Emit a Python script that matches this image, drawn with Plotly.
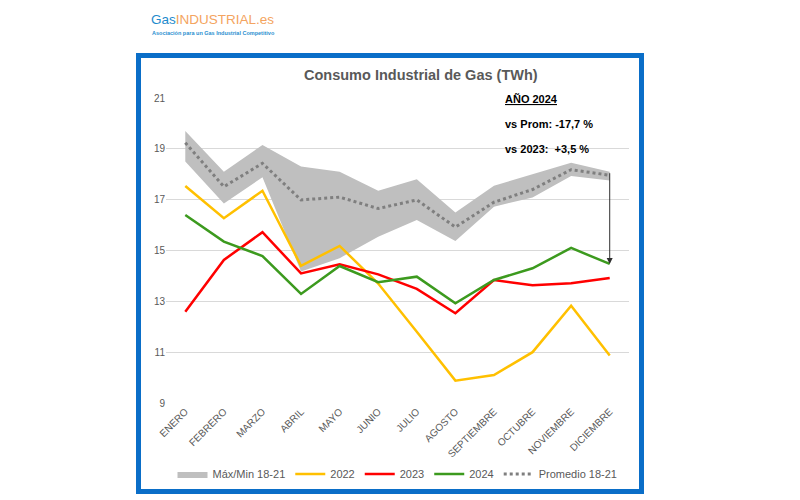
import plotly.graph_objects as go

meses = ["ENERO", "FEBRERO", "MARZO", "ABRIL", "MAYO", "JUNIO", "JULIO",
         "AGOSTO", "SEPTIEMBRE", "OCTUBRE", "NOVIEMBRE", "DICIEMBRE"]
max_18_21 = [19.7, 18.1, 19.15, 18.3, 18.1, 17.35, 17.8, 16.5, 17.55, 18.0, 18.45, 18.1]
min_18_21 = [18.5, 16.85, 17.88, 14.17, 14.7, 15.54, 16.2, 15.37, 16.72, 17.09, 17.93, 17.75]
prom_18_21 = [19.24, 17.51, 18.43, 16.99, 17.1, 16.65, 16.99, 15.92, 16.9, 17.4, 18.18, 17.96]
v2022 = [17.54, 16.27, 17.35, 14.4, 15.18, 13.7, 11.8, 9.88, 10.1, 11.0, 12.83, 10.87]
v2023 = [12.59, 14.63, 15.72, 14.1, 14.46, 14.06, 13.49, 12.53, 13.84, 13.63, 13.71, 13.92]
v2024 = [16.4, 15.35, 14.78, 13.29, 14.39, 13.75, 13.97, 12.92, 13.84, 14.3, 15.1, 14.47]
y_ticks = [9, 11, 13, 15, 17, 19, 21]

GREY = "#595959"
fig = go.Figure()
fig.add_trace(go.Scatter(x=meses, y=min_18_21, mode="lines", line=dict(width=0, color="#BFBFBF"),
                         showlegend=False, hoverinfo="skip"))
fig.add_trace(go.Scatter(x=meses, y=max_18_21, mode="lines", line=dict(width=0, color="#BFBFBF"),
                         fill="tonexty", fillcolor="#BFBFBF", name="Máx/Min 18-21"))
fig.add_trace(go.Scatter(x=meses, y=v2022, mode="lines", line=dict(width=2.5, color="#FFC000"), name="2022"))
fig.add_trace(go.Scatter(x=meses, y=v2023, mode="lines", line=dict(width=2.5, color="#FF0000"), name="2023"))
fig.add_trace(go.Scatter(x=meses, y=v2024, mode="lines", line=dict(width=2.5, color="#3C9A1E"), name="2024"))
fig.add_trace(go.Scatter(x=meses, y=prom_18_21, mode="lines",
                         line=dict(width=3, color="#7F7F7F", dash="dot"), name="Promedio 18-21"))

L, R, T, B = 166, 629, 98, 403
W, H = 800, 500
pw, ph = R - L, B - T
def px(x):
    return (x - L) / pw
def py(y):
    return (B - y) / ph

fig.update_layout(
    width=W, height=H,
    margin=dict(l=L, r=W - R, t=T, b=H - B),
    plot_bgcolor="white", paper_bgcolor="white",
    font=dict(family="Liberation Sans, Arial, sans-serif", color=GREY, size=10),
    xaxis=dict(type="category", range=[-0.5, 11.5], tickangle=-45, showgrid=False,
               showline=False, ticks="", tickfont=dict(size=10, color=GREY), fixedrange=True),
    yaxis=dict(range=[9, 21], tickvals=y_ticks, showgrid=True, gridcolor="#D9D9D9",
               gridwidth=1, zeroline=False, showline=False, ticks="",
               tickfont=dict(size=10, color=GREY), fixedrange=True),
    legend=dict(orientation="h", x=0.5, xanchor="center", y=py(474), yanchor="middle",
                traceorder="normal",
                font=dict(size=11, color=GREY), bgcolor="rgba(0,0,0,0)", itemwidth=30),
    showlegend=True,
)

# Frame
fig.add_shape(type="rect", xref="paper", yref="paper",
              x0=px(138.5), x1=px(641.5), y0=py(491.5), y1=py(55.5),
              line=dict(color="#0A6EC8", width=5), layer="below")

# Title
fig.add_annotation(xref="paper", yref="paper", x=px(421), y=py(75), text="<b>Consumo Industrial de Gas (TWh)</b>",
                   showarrow=False, font=dict(size=14.5, color=GREY), xanchor="center", yanchor="middle")

# Side notes
notes = [("<b><u>AÑO 2024</u></b>", 99), ("<b>vs Prom: -17,7 %</b>", 124), ("<b>vs 2023:  +3,5 %</b>", 149)]
for txt, yy in notes:
    fig.add_annotation(xref="paper", yref="paper", x=px(503), y=py(yy), text=txt, showarrow=False,
                       font=dict(size=11, color="black"), xanchor="left", yanchor="middle")

# Arrow
fig.add_annotation(x=11, y=v2024[11], ax=11, ay=max_18_21[11], xref="x", yref="y", axref="x", ayref="y",
                   text="", showarrow=True, arrowhead=2, arrowsize=1.2, arrowwidth=1, arrowcolor="#303030")

# Logo
fig.add_annotation(xref="paper", yref="paper", x=px(149), y=py(29), xanchor="left", yanchor="bottom",
                   text="<span style='color:#1E8BCD'>Gas</span><span style='color:#F4A460'>INDUSTRIAL.es</span>",
                   showarrow=False, font=dict(size=13.5, family="Liberation Sans, Arial, sans-serif"))
fig.add_annotation(xref="paper", yref="paper", x=px(150), y=py(33), xanchor="left", yanchor="middle",
                   text="<b>Asociación para un Gas Industrial Competitivo</b>",
                   showarrow=False, font=dict(size=5.5, color="#2A8FD0",
                                              family="Liberation Sans, Arial, sans-serif"))

fig.write_html("out.html", config={"displayModeBar": False},
               post_script="document.body.style.margin='0px';")
